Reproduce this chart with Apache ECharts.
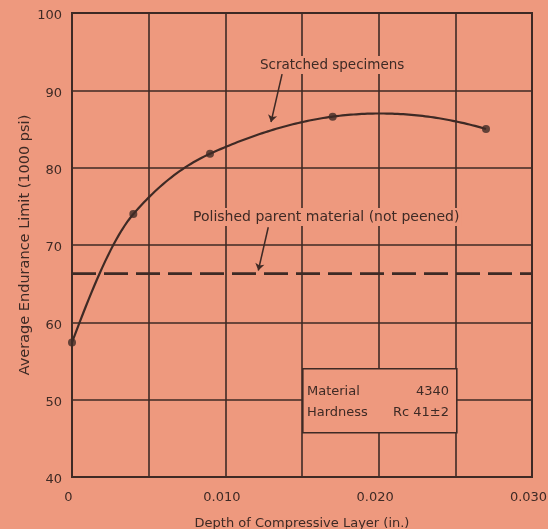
<!DOCTYPE html>
<html><head><meta charset="utf-8">
<script src="https://cdn.jsdelivr.net/npm/echarts@6/dist/echarts.min.js"></script>
<style>html,body{margin:0;padding:0;background:#EE997E;}#c{width:548px;height:529px;}</style>
</head><body><div id="c"></div>
<script>
// Data
const depth = [0, 0.004, 0.009, 0.017, 0.027];          // in.
const scratched = [57.4, 74.0, 81.8, 86.6, 85.0];       // 1000 psi
const polishedLevel = 66.3;                               // 1000 psi, not peened
const xRange = [0, 0.030];
const yTicks = [40, 50, 60, 70, 80, 90, 100];
const xLabelTicks = ['0', '0.010', '0.020', '0.030'];
const boxRows = [['Material', '4340'], ['Hardness', 'Rc 41\u00B12']];
const labelScratched = 'Scratched specimens';
const labelPolished = 'Polished parent material (not peened)';
const xName = 'Depth of Compressive Layer (in.)';
const yName = 'Average Endurance Limit (1000 psi)';

const BG = '#EE997E', INK = '#3e2a25', FONT = 'DejaVu Sans';
const chart = echarts.init(document.getElementById('c'), null, {renderer: 'canvas'});
const scratchedData = depth.map((d, i) => [d, scratched[i]]);

// shape-preserving Hermite curve through the data points (drawing only)
function slopes(xs, ys) {
  const n = xs.length, h = [], s = [], d = new Array(n);
  for (let i = 0; i < n - 1; i++) { h.push(xs[i + 1] - xs[i]); s.push((ys[i + 1] - ys[i]) / h[i]); }
  d[0] = ((2 * h[0] + h[1]) * s[0] - h[0] * s[1]) / (h[0] + h[1]);
  for (let i = 1; i < n - 1; i++) {
    if (s[i - 1] * s[i] > 0) {
      const w1 = 2 * h[i] + h[i - 1], w2 = h[i] + 2 * h[i - 1];
      d[i] = (w1 + w2) / (w1 / s[i - 1] + w2 / s[i]);
    } else {
      d[i] = (h[i] * s[i - 1] + h[i - 1] * s[i]) / (h[i - 1] + h[i]);
    }
  }
  const k = n - 1;
  d[k] = ((2 * h[k - 1] + h[k - 2]) * s[k - 1] - h[k - 1] * s[k - 2]) / (h[k - 2] + h[k - 1]);
  return d;
}
function hermiteAt(xs, ys, d, x) {
  let i = 0; while (i < xs.length - 2 && x > xs[i + 1]) i++;
  const h = xs[i + 1] - xs[i], t = (x - xs[i]) / h, t2 = t * t, t3 = t2 * t;
  return (2 * t3 - 3 * t2 + 1) * ys[i] + (t3 - 2 * t2 + t) * h * d[i] + (-2 * t3 + 3 * t2) * ys[i + 1] + (t3 - t2) * h * d[i + 1];
}
const D = slopes(depth, scratched);

chart.setOption({
  backgroundColor: BG,
  animation: false,
  grid: {left: 72, right: 16, top: 13, bottom: 52, outerBoundsMode: 'none', containLabel: false,
    show: true, borderColor: INK, borderWidth: 2, backgroundColor: 'transparent'},
  xAxis: {
    type: 'value', min: xRange[0], max: xRange[1], interval: 0.005,
    name: xName, nameLocation: 'middle', nameGap: 40, nameMoveOverlap: false,
    nameTextStyle: {fontFamily: FONT, fontSize: 13, color: INK},
    axisLine: {show: true, lineStyle: {color: INK, width: 2}},
    axisTick: {show: false},
    axisLabel: {fontFamily: FONT, fontSize: 13, color: INK, margin: 14, padding: [0, 7, 0, 0],
      formatter: v => { const k = Math.round(v * 1000); if (k % 10 !== 0) return ''; return xLabelTicks[k / 10]; }},
    splitLine: {show: true, lineStyle: {color: INK, width: 1.6}}
  },
  yAxis: {
    type: 'value', min: yTicks[0], max: yTicks[yTicks.length - 1], interval: 10,
    name: yName, nameLocation: 'middle', nameGap: 39, nameMoveOverlap: false,
    nameTextStyle: {fontFamily: FONT, fontSize: 14.5, color: INK},
    axisLine: {show: true, lineStyle: {color: INK, width: 2}},
    axisTick: {show: false},
    axisLabel: {fontFamily: FONT, fontSize: 13, color: INK, margin: 10, verticalAlign: 'top', lineHeight: 6},
    splitLine: {show: true, lineStyle: {color: INK, width: 1.6}}
  },
  series: [
    {
      type: 'line', data: [[xRange[0], polishedLevel], [xRange[1], polishedLevel]],
      symbol: 'none', lineStyle: {color: INK, width: 2.6, type: [24, 8]}, z: 3,
      markLine: {
        silent: true, symbol: ['none', 'arrow'], symbolSize: 7,
        lineStyle: {color: INK, width: 1.5, type: 'solid'}, label: {show: false},
        data: [
          [{coord: [0.0128, 72.3]}, {coord: [0.01215, 66.7]}],
          [{coord: [0.0137, 92.1]}, {coord: [0.01298, 85.9]}]
        ]
      }
    },
    {
      type: 'custom', data: scratchedData, z: 4, silent: true,
      renderItem: (params, api) => {
        if (params.dataIndex !== 0) return null;
        const pts = [];
        const x0 = depth[0], x1 = depth[depth.length - 1], N = 150;
        for (let j = 0; j <= N; j++) {
          const x = x0 + (x1 - x0) * j / N;
          pts.push(api.coord([x, hermiteAt(depth, scratched, D, x)]));
        }
        return {type: 'polyline', shape: {points: pts}, style: {stroke: INK, lineWidth: 2.2, fill: null}};
      }
    },
    {
      type: 'scatter', data: scratchedData, symbol: 'circle', symbolSize: 8,
      itemStyle: {color: INK}, z: 5
    }
  ],
  graphic: [
    {type: 'text', left: 258, top: 56, z: 10, style: {text: labelScratched, fill: INK, font: '13.5px ' + FONT, backgroundColor: BG, padding: [2, 2]}},
    {type: 'text', left: 191, top: 208, z: 10, style: {text: labelPolished, fill: INK, font: '14px ' + FONT, backgroundColor: BG, padding: [2, 2]}},
    {type: 'rect', left: 302, top: 368, z: 10, shape: {width: 154, height: 64}, style: {fill: BG, stroke: INK, lineWidth: 1.6}},
    {type: 'text', left: 307, top: 385, z: 11, style: {text: boxRows[0][0], fill: INK, font: '13px ' + FONT}},
    {type: 'text', right: 548 - 449, top: 385, z: 11, style: {text: boxRows[0][1], fill: INK, font: '13px ' + FONT, align: 'right'}},
    {type: 'text', left: 307, top: 406, z: 11, style: {text: boxRows[1][0], fill: INK, font: '13px ' + FONT}},
    {type: 'text', right: 548 - 449, top: 406, z: 11, style: {text: boxRows[1][1], fill: INK, font: '13px ' + FONT, align: 'right'}}
  ]
});
</script></body></html>
